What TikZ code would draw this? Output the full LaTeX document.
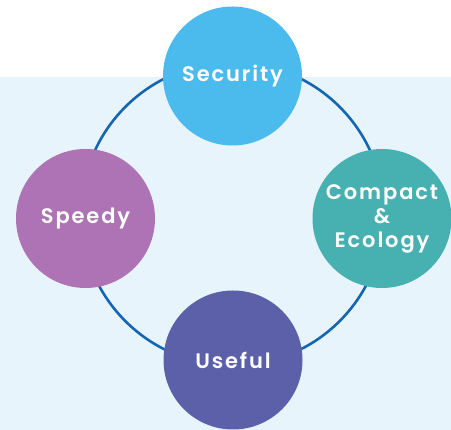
\documentclass[tikz,border=0pt]{standalone}
\usepackage{fontspec}
\setmainfont{Poppins}[LetterSpace=9, BoldFont={Poppins SemiBold}]
\definecolor{panelblue}{HTML}{E8F4FC}
\definecolor{ringblue}{HTML}{1466B2}
\definecolor{secblue}{HTML}{4BBBEE}
\definecolor{spdpurple}{HTML}{AD73B5}
\definecolor{cmpteal}{HTML}{46B1B0}
\definecolor{usepurple}{HTML}{5B60A8}

\begin{document}
\begin{tikzpicture}[x=1pt, y=1pt,
	bubble/.style={circle, minimum size=139pt, inner sep=0pt, text=white, align=center,
		font=\bfseries\fontsize{21}{24}\selectfont}]
		\useasboundingbox (0,0) rectangle (451,430);
		% light panel behind the ring
		\fill[panelblue] (0,0) rectangle (451,353);
		% ring
		\coordinate (ring) at (232.5,216);
		\draw[ringblue, line width=2.6pt] (ring) circle (151.5);
		% the four bubbles
		\node[bubble, fill=secblue] (security) at (232.5,354) {Security};
		\node[bubble, fill=spdpurple] (speedy) at (85.5,211.5) {Speedy};
		\node[bubble, fill=cmpteal] (compact) at (382,211.5) {Compact\\\&\\Ecology};
		\node[bubble, fill=usepurple] (useful) at (233,70) {Useful};
\end{tikzpicture}
\end{document}
